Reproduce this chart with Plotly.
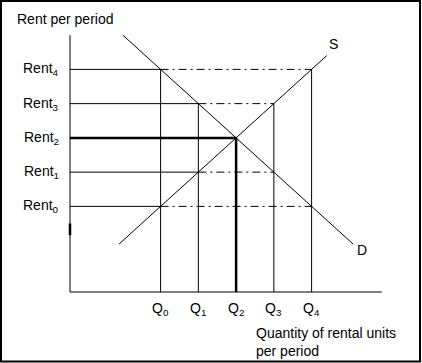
import plotly.graph_objects as go

# ---- data (chart units) ----
q_labels = ["Q<sub>0</sub>", "Q<sub>1</sub>", "Q<sub>2</sub>", "Q<sub>3</sub>", "Q<sub>4</sub>"]
quantities = [2.4, 3.4, 4.4, 5.4, 6.4]
rent_labels = ["Rent<sub>0</sub>", "Rent<sub>1</sub>", "Rent<sub>2</sub>", "Rent<sub>3</sub>", "Rent<sub>4</sub>"]
rents = [2.5, 3.5, 4.5, 5.5, 6.5]
supply_q = [1.3, 6.8]
supply_rent = [1.4, 6.9]
demand_q = [1.4, 7.5]
demand_rent = [7.5, 1.4]
axis_x_end = 8.26
axis_y_end = 7.5
axis_mark = [1.66, 2.0]  # small thick bit on the vertical axis

FONT = "Liberation Sans, Arial, sans-serif"
FS = 14
eq = 2

fig = go.Figure()

def seg(xs, ys, width=1, dash="solid"):
    fig.add_trace(go.Scatter(x=xs, y=ys, mode="lines",
                             line=dict(color="black", width=width, dash=dash),
                             hoverinfo="skip", showlegend=False))

# axes
seg([0, axis_x_end], [0, 0])
seg([0, 0], [0, axis_y_end])
seg([0, 0], axis_mark, width=2.5)

n = len(rents)
# horizontal rent lines
for i in range(n):
    qs = quantities[i]          # supplied at this rent
    qd = quantities[n - 1 - i]  # demanded at this rent
    lo, hi = min(qs, qd), max(qs, qd)
    seg([0, lo], [rents[i], rents[i]], width=2.5 if i == eq else 1)
    if hi > lo:
        seg([lo, hi], [rents[i], rents[i]], dash="8px,4px,2px,4px")

# vertical quantity lines
for j in range(n):
    top = rents[max(j, n - 1 - j)]
    seg([quantities[j], quantities[j]], [0, top], width=2.5 if j == eq else 1)

# supply and demand
seg(supply_q, supply_rent)
seg(demand_q, demand_rent)

ann = []
for i in range(n):
    ann.append(dict(x=0, y=rents[i], xref="x", yref="y", text=rent_labels[i],
                    showarrow=False, xanchor="right", yanchor="middle", xshift=-9))
for j in range(n):
    ann.append(dict(x=quantities[j], y=0, xref="x", yref="y", text=q_labels[j],
                    showarrow=False, xanchor="center", yanchor="top", yshift=-6))
ann.append(dict(x=supply_q[-1], y=supply_rent[-1], xref="x", yref="y", text="S",
                showarrow=False, xanchor="center", yanchor="middle", xshift=7, yshift=12))
ann.append(dict(x=demand_q[-1], y=demand_rent[-1], xref="x", yref="y", text="D",
                showarrow=False, xanchor="center", yanchor="middle", xshift=9, yshift=-6))
ann.append(dict(x=15 / 422, y=1 - 19 / 363, xref="paper", yref="paper",
                text="Rent per period", showarrow=False, xanchor="left", yanchor="middle"))
ann.append(dict(x=254 / 422, y=1 - 323 / 363, xref="paper", yref="paper",
                text="Quantity of rental units<br>per period", showarrow=False,
                xanchor="left", yanchor="top", align="left"))

fig.update_layout(
    width=422, height=363,
    margin=dict(l=0, r=0, t=0, b=0),
    paper_bgcolor="white", plot_bgcolor="white",
    font=dict(family=FONT, size=FS, color="black"),
    xaxis=dict(range=[-70 / 37.75, 352 / 37.75], visible=False, fixedrange=True),
    yaxis=dict(range=[-71 / 34.25, 292 / 34.25], visible=False, fixedrange=True),
    annotations=ann,
    shapes=[dict(type="rect", xref="paper", yref="paper",
                 x0=1 / 422, x1=420 / 422, y0=1.5 / 363, y1=1 - 1 / 363,
                 line=dict(color="black", width=2))],
)

fig.write_html("out.html", config={"displayModeBar": False},
               post_script="document.body.style.margin='0px';document.body.style.overflow='hidden';")
